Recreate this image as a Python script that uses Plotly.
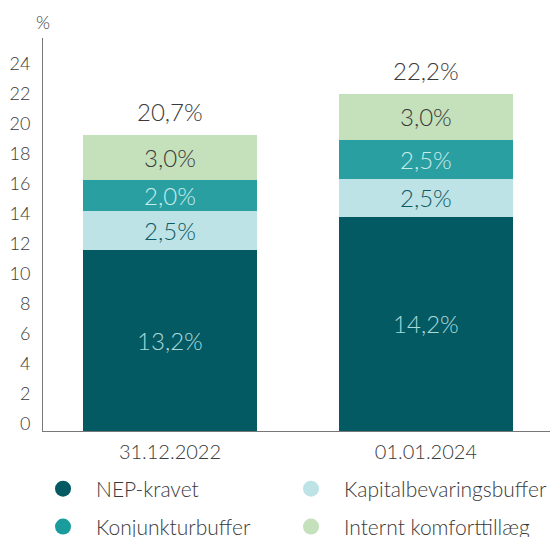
import plotly.graph_objects as go

categories = ["31.12.2022", "01.01.2024"]
series_names = ["NEP-kravet", "Kapitalbevaringsbuffer", "Konjunkturbuffer", "Internt komforttillæg"]
nep = [12.1, 14.3]
kapital = [2.6, 2.5]
konjunktur = [2.05, 2.6]
komfort = [3.0, 3.1]
nep_labels = ["13,2%", "14,2%"]
kapital_labels = ["2,5%", "2,5%"]
konjunktur_labels = ["2,0%", "2,5%"]
komfort_labels = ["3,0%", "3,0%"]
total_labels = ["20,7%", "22,2%"]
y_ticks = [0, 2, 4, 6, 8, 10, 12, 14, 16, 18, 20, 22, 24]

bar_colors = ["#045a62", "#bde3e6", "#2a9fa1", "#c4e1bc"]
legend_colors = ["#045a62", "#bde3e6", "#1a9c9d", "#c4e1bc"]
text_colors = ["#a9d9dc", "#0d5a62", "#c8ecec", "#3a3a3a"]

FONT = "Lato"
fig = go.Figure()
series = [nep, kapital, konjunktur, komfort]
labels = [nep_labels, kapital_labels, konjunktur_labels, komfort_labels]
for vals, labs, col, tcol, name in zip(series, labels, bar_colors, text_colors, series_names):
    fig.add_trace(go.Bar(
        x=categories, y=vals, name=name, marker=dict(color=col, line=dict(width=0)),
        text=labs, textposition="inside", insidetextanchor="middle", constraintext="none",
        textfont=dict(color=tcol, size=24, family=FONT, weight=300),
        width=0.68, showlegend=False, hoverinfo="skip",
    ))

totals = [a + b + c + d for a, b, c, d in zip(nep, kapital, konjunktur, komfort)]
for cat, tot, lab in zip(categories, totals, total_labels):
    fig.add_annotation(x=cat, y=tot, text=lab, showarrow=False, yanchor="bottom",
                       yshift=7, font=dict(size=24, color="#3a3a3a", family=FONT, weight=300))

# legend entries as circles, one legend per entry (2 x 2 grid)
legend_ids = ["legend", "legend2", "legend3", "legend4"]
for name, col, lid in zip(series_names, legend_colors, legend_ids):
    fig.add_trace(go.Scatter(x=[None], y=[None], mode="markers", name=name,
                             marker=dict(symbol="circle", size=17, color=col),
                             legend=lid, showlegend=True))

fig.add_annotation(x=0.0, y=1.041, xref="paper", yref="paper", text="%", showarrow=False,
                   xanchor="center", yanchor="middle",
                   font=dict(size=18, color="#3a3a3a", family=FONT, weight=300))

legend_common = dict(orientation="h", xanchor="left", yanchor="middle",
                     font=dict(size=21, color="#3a3a3a", family=FONT, weight=300),
                     bgcolor="rgba(0,0,0,0)", itemwidth=56)

fig.update_layout(
    width=550, height=529,
    margin=dict(l=35, r=0, t=30, b=106, autoexpand=False),
    plot_bgcolor="white", paper_bgcolor="white",
    barmode="stack",
    font=dict(family=FONT, color="#3a3a3a"),
    xaxis=dict(range=[-0.496, 1.516], showline=True, linecolor="#777777", linewidth=1,
               ticks="", ticklabelstandoff=3,
               tickfont=dict(size=20, color="#3a3a3a", family=FONT, weight=300),
               showgrid=False, zeroline=False, fixedrange=True),
    yaxis=dict(range=[0, 26.2], tickvals=y_ticks, showline=True, linecolor="#777777", linewidth=1,
               ticks="", showgrid=False, zeroline=False, ticklabelshift=-7, ticklabelstandoff=8,
               tickfont=dict(size=18, color="#3a3a3a", family=FONT, weight=300)),
    legend=dict(x=-0.0252, y=-0.1476, **legend_common),
    legend2=dict(x=0.4563, y=-0.1476, **legend_common),
    legend3=dict(x=-0.0252, y=-0.244, **legend_common),
    legend4=dict(x=0.4563, y=-0.244, **legend_common),
)

fig.write_html("out.html")
